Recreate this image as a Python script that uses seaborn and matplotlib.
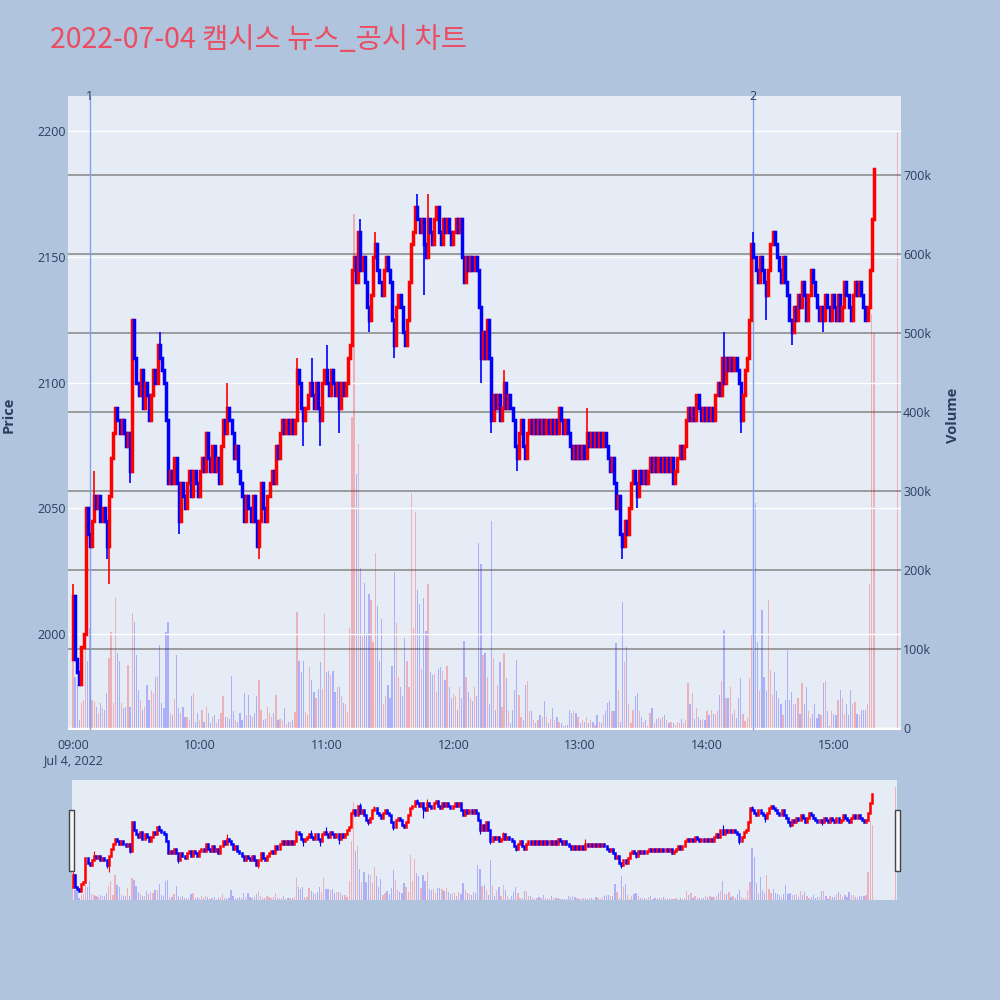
import numpy as np
import pandas as pd
import matplotlib
matplotlib.use("Agg")
import matplotlib.pyplot as plt
from matplotlib.patches import Rectangle
import seaborn as sns

# ---- data (1-minute candles, minutes after 09:00) ----
title = "2022-07-04 캠시스 뉴스_공시 차트"

first_open = 1990
auction_open = 2190   # 15:30 closing auction print

closes = [
    2015, 1990, 1985, 1980, 1995, 2000, 2050, 2040, 2035, 2045,
    2055, 2050, 2055, 2045, 2050, 2045, 2035, 2055, 2070, 2080,
    2090, 2085, 2080, 2085, 2080, 2075, 2080, 2065, 2125, 2110,
    2100, 2095, 2105, 2090, 2100, 2095, 2085, 2095, 2105, 2100,
    2115, 2110, 2105, 2100, 2085, 2060, 2065, 2060, 2070, 2060,
    2045, 2060, 2055, 2050, 2060, 2065, 2055, 2065, 2060, 2055,
    2065, 2070, 2065, 2080, 2070, 2065, 2075, 2065, 2070, 2060,
    2075, 2085, 2080, 2090, 2085, 2080, 2070, 2075, 2065, 2060,
    2055, 2045, 2055, 2050, 2045, 2055, 2045, 2035, 2045, 2060,
    2050, 2045, 2055, 2060, 2065, 2060, 2075, 2070, 2080, 2085,
    2080, 2085, 2080, 2085, 2080, 2085, 2105, 2100, 2090, 2085,
    2090, 2095, 2100, 2095, 2090, 2100, 2090, 2085, 2100, 2105,
    2100, 2095, 2105, 2100, 2095, 2100, 2090, 2100, 2095, 2100,
    2110, 2115, 2145, 2150, 2140, 2160, 2145, 2150, 2140, 2130,
    2125, 2135, 2150, 2155, 2145, 2140, 2135, 2145, 2150, 2145,
    2140, 2125, 2115, 2130, 2135, 2130, 2120, 2115, 2125, 2140,
    2155, 2160, 2170, 2165, 2160, 2165, 2155, 2150, 2165, 2160,
    2155, 2165, 2170, 2160, 2155, 2165, 2160, 2165, 2160, 2155,
    2160, 2165, 2160, 2165, 2150, 2140, 2150, 2145, 2150, 2145,
    2150, 2145, 2130, 2110, 2120, 2110, 2125, 2110, 2085, 2095,
    2090, 2095, 2085, 2090, 2100, 2090, 2095, 2090, 2085, 2075,
    2070, 2080, 2085, 2075, 2070, 2080, 2085, 2080, 2085, 2080,
    2085, 2080, 2085, 2080, 2085, 2080, 2085, 2080, 2085, 2080,
    2090, 2085, 2080, 2085, 2080, 2075, 2070, 2075, 2070, 2075,
    2070, 2075, 2070, 2080, 2075, 2080, 2075, 2080, 2075, 2080,
    2075, 2080, 2075, 2070, 2065, 2070, 2060, 2050, 2055, 2040,
    2035, 2045, 2040, 2050, 2060, 2065, 2060, 2055, 2065, 2060,
    2065, 2060, 2065, 2070, 2065, 2070, 2065, 2070, 2065, 2070,
    2065, 2070, 2065, 2070, 2060, 2065, 2070, 2075, 2070, 2075,
    2085, 2090, 2085, 2090, 2085, 2095, 2090, 2085, 2090, 2085,
    2090, 2085, 2090, 2085, 2095, 2100, 2095, 2110, 2100, 2110,
    2105, 2110, 2105, 2110, 2105, 2100, 2085, 2095, 2105, 2110,
    2125, 2155, 2150, 2145, 2140, 2150, 2145, 2140, 2135, 2145,
    2155, 2160, 2155, 2150, 2145, 2140, 2150, 2140, 2135, 2125,
    2120, 2130, 2125, 2135, 2130, 2140, 2135, 2125, 2135, 2145,
    2140, 2135, 2130, 2125, 2130, 2125, 2135, 2130, 2125, 2135,
    2130, 2125, 2135, 2125, 2130, 2140, 2135, 2130, 2125, 2135,
    2140, 2135, 2140, 2135, 2130, 2125, 2130, 2145, 2165, 2185,
    2190,
]

# volume in thousands of shares
volume_k = [
    86, 65, 55, 10, 32, 35, 103, 85, 126, 35,
    33, 27, 19, 32, 25, 23, 44, 89, 122, 32,
    164, 95, 85, 32, 25, 27, 80, 27, 145, 134,
    92, 48, 35, 23, 27, 55, 35, 48, 44, 65,
    66, 105, 32, 25, 122, 134, 19, 17, 37, 93,
    25, 19, 27, 14, 14, 10, 40, 44, 8, 19,
    10, 23, 8, 27, 19, 6, 14, 17, 6, 12,
    19, 40, 14, 14, 12, 66, 21, 10, 8, 19,
    10, 44, 17, 42, 17, 14, 19, 40, 61, 23,
    10, 12, 27, 19, 14, 19, 42, 10, 12, 10,
    25, 5, 8, 8, 10, 20, 147, 85, 71, 85,
    20, 17, 77, 61, 45, 38, 50, 83, 50, 144,
    71, 72, 67, 72, 45, 52, 52, 41, 32, 30,
    20, 127, 394, 651, 322, 359, 202, 117, 183, 120,
    170, 162, 109, 221, 155, 85, 138, 30, 41, 55,
    38, 79, 197, 133, 65, 52, 41, 114, 85, 52,
    297, 127, 273, 175, 157, 75, 164, 123, 182, 71,
    67, 69, 45, 75, 77, 72, 61, 79, 52, 38,
    43, 41, 23, 52, 38, 110, 65, 45, 38, 34,
    52, 41, 234, 207, 92, 95, 65, 30, 262, 89,
    23, 55, 84, 27, 95, 63, 21, 6, 23, 48,
    86, 42, 14, 10, 55, 59, 21, 21, 10, 6,
    10, 17, 14, 34, 14, 6, 12, 25, 10, 14,
    8, 6, 2, 4, 4, 23, 19, 21, 19, 14,
    6, 10, 8, 14, 6, 10, 8, 4, 17, 8,
    6, 17, 21, 32, 34, 21, 21, 107, 48, 8,
    160, 84, 103, 30, 6, 23, 40, 44, 21, 14,
    8, 10, 2, 19, 25, 6, 12, 14, 12, 14,
    17, 10, 6, 8, 6, 4, 8, 6, 12, 6,
    10, 57, 30, 44, 12, 25, 14, 10, 12, 10,
    22, 16, 23, 18, 18, 22, 42, 59, 124, 38,
    38, 52, 18, 23, 13, 38, 63, 18, 9, 13,
    63, 119, 347, 285, 109, 47, 149, 65, 47, 162,
    73, 42, 71, 47, 38, 30, 16, 35, 99, 35,
    45, 30, 30, 38, 18, 57, 30, 52, 22, 13,
    18, 30, 13, 18, 16, 57, 59, 22, 2, 22,
    18, 16, 35, 48, 38, 18, 30, 16, 48, 30,
    33, 18, 16, 23, 23, 23, 30, 182, 524, 500,
    754,
]

minutes = list(range(380)) + [390]

# long shadows that stick out of the bodies
wick_minutes = [0, 10, 16, 17, 27, 41, 50, 73, 88, 106, 109, 113, 117, 120, 126,
                136, 140, 143, 152, 163, 166, 168, 193, 198, 204, 210, 243, 260,
                267, 308, 316, 322, 328, 340, 355]
wick_prices = [2020, 2065, 2030, 2020, 2060, 2120, 2040, 2100, 2030, 2110, 2075, 2110,
               2075, 2115, 2080, 2165, 2120, 2160, 2110, 2175, 2135, 2175, 2100, 2080,
               2105, 2065, 2090, 2030, 2050, 2120, 2080, 2160, 2125, 2115, 2120]

# news / disclosure markers
event_minutes = [8, 322]
event_labels = ["1", "2"]

price_ticks = [2000, 2050, 2100, 2150, 2200]
volume_ticks_k = [0, 100, 200, 300, 400, 500, 600, 700]
time_ticks = [0, 60, 120, 180, 240, 300, 360]
time_labels = ["09:00\nJul 4, 2022", "10:00", "11:00", "12:00", "13:00", "14:00", "15:00"]

# ---- frame ----
df = pd.DataFrame({"minute": minutes, "close": closes,
                   "volume": [v * 1000 for v in volume_k]})
df["open"] = [first_open] + closes[:-1]
df.loc[df.index[-1], "open"] = auction_open
df["wick"] = df["minute"].map(dict(zip(wick_minutes, wick_prices)))
df["high"] = df[["open", "close", "wick"]].max(axis=1)
df["low"] = df[["open", "close", "wick"]].min(axis=1)
df["dir"] = np.where(df["close"] >= df["open"], "up", "down")

palette = {"up": "#FF0000", "down": "#0000FF"}
df["color"] = df["dir"].map(palette)

PLOT_BG = "#E5ECF6"
TEXT = "#2A3F5F"

sns.set_style("white")
plt.rcParams["font.family"] = ["Open Sans", "DejaVu Sans"]

fig = plt.figure(figsize=(10, 10), dpi=100, facecolor="#B0C4DE")


def candle_panel(rect, xlim, body_lw, wick_lw):
    ax = fig.add_axes(rect)
    axv = ax.twinx()
    # volume underneath the candles
    axv.set_zorder(1)
    ax.set_zorder(2)
    ax.patch.set_visible(False)
    axv.patch.set_visible(True)
    axv.set_facecolor(PLOT_BG)

    sns.histplot(data=df, x="minute", weights="volume", hue="dir",
                 hue_order=["up", "down"], palette=palette, discrete=True,
                 shrink=0.6, alpha=0.25, linewidth=0, legend=False, ax=axv)

    ax.vlines(df["minute"], df["low"], df["high"], colors=df["color"],
              linewidth=wick_lw, zorder=3)
    bodies = ax.vlines(df["minute"], df[["open", "close"]].min(axis=1),
                       df[["open", "close"]].max(axis=1), colors=df["color"],
                       linewidth=body_lw, zorder=4)
    bodies.set_capstyle("projecting")

    ax.set_xlim(*xlim)
    ax.set_ylim(1961.9, 2214)
    axv.set_ylim(-2500, 800000)
    ax.set_xlabel("")
    ax.set_ylabel("")
    axv.set_xlabel("")
    axv.set_ylabel("")
    for a in (ax, axv):
        for s in a.spines.values():
            s.set_visible(False)
    return ax, axv


# main chart
ax, axv = candle_panel([0.068, 0.270, 0.833, 0.634], (-2.37, 391.8), 2.5, 1.2)
ax.set_yticks(price_ticks)
ax.set_xticks(time_ticks, time_labels)
ax.tick_params(axis="y", length=0, colors=TEXT, labelsize=9, pad=1.5)
ax.tick_params(axis="x", length=0, colors=TEXT, labelsize=9, pad=6.5)
ax.grid(axis="y", color="white", linewidth=1)
ax.grid(axis="x", visible=False)

axv.set_yticks([v * 1000 for v in volume_ticks_k],
               ["0"] + [f"{v}k" for v in volume_ticks_k[1:]])
axv.tick_params(axis="y", length=0, colors=TEXT, labelsize=9, pad=1.5)
axv.grid(axis="y", color="#8E8E8E", linewidth=1.2)
axv.grid(axis="x", visible=False)
axv.axhline(0, color="white", linewidth=2, zorder=0.8)

for m, lab in zip(event_minutes, event_labels):
    ax.axvline(m, color="#86A0EC", linewidth=1, zorder=1)
    ax.text(m, 1.0, lab, transform=ax.get_xaxis_transform(), ha="center",
            va="center", fontsize=9, color=TEXT)

# range slider
ax2, ax2v = candle_panel([0.072, 0.100, 0.825, 0.120], (-0.38, 390.7), 1.8, 0.8)
for a in (ax2, ax2v):
    a.set_xticks([])
    a.set_yticks([])
    a.grid(False)

for hx in (0.0688, 0.8952):
    fig.add_artist(Rectangle((hx, 0.129), 0.0049, 0.061, transform=fig.transFigure,
                             facecolor="#F7F7F7", edgecolor="#444444",
                             linewidth=1, zorder=10))

fig.text(0.05, 0.96, title, fontsize=20.5, color="#EB4D62", va="center", ha="left",
         family=["Noto Sans CJK KR", "DejaVu Sans"])
fig.text(0.009, 0.585, "Price", rotation=90, ha="center", va="center",
         fontsize=10.5, fontweight="bold", color=TEXT)
fig.text(0.953, 0.585, "Volume", rotation=90, ha="center", va="center",
         fontsize=10.5, fontweight="bold", color=TEXT)

fig.savefig("out.png", dpi=100, facecolor=fig.get_facecolor())
